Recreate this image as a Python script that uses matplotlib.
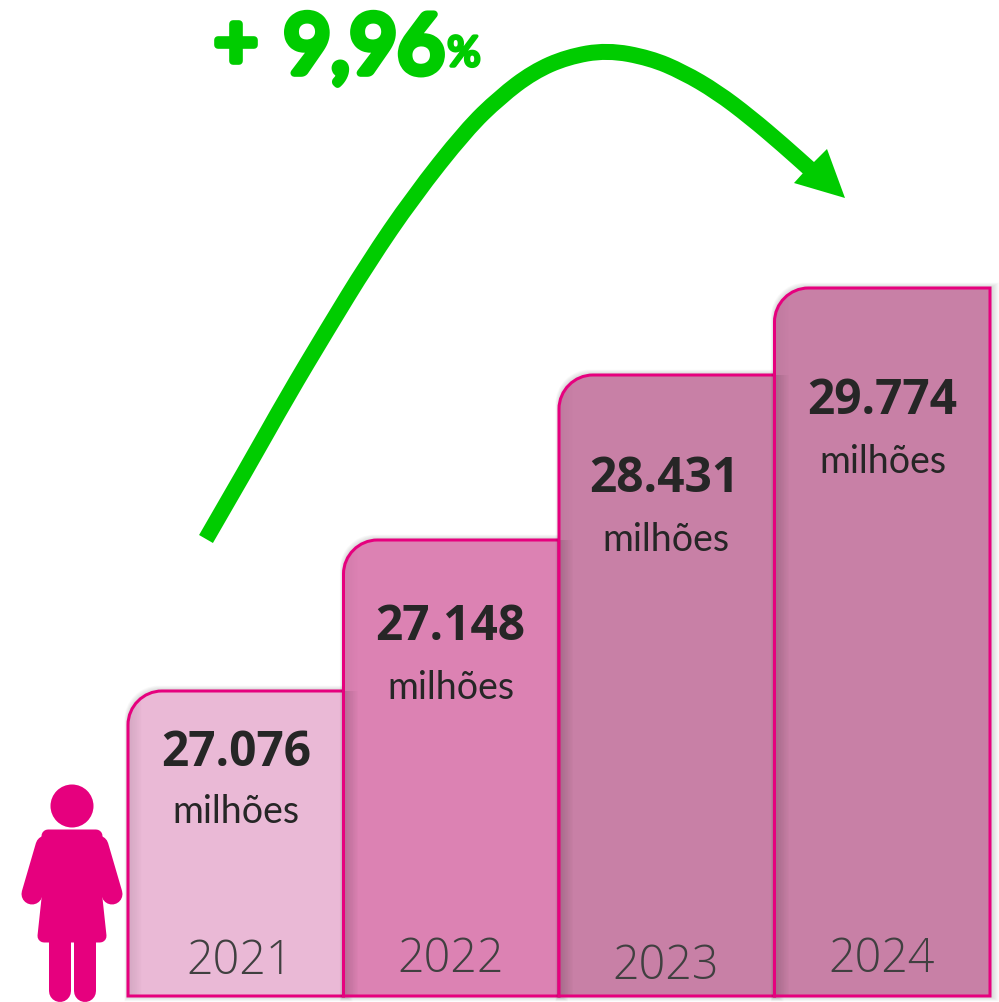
import matplotlib
matplotlib.use('Agg')
import matplotlib.pyplot as plt
import matplotlib.patheffects as pe
from matplotlib.path import Path
from matplotlib.patches import PathPatch, Circle, Polygon, Rectangle

# data
years = ['2021', '2022', '2023', '2024']
value_labels = ['27.076', '27.148', '28.431', '29.774']
unit = 'milhões'
growth_label = '9,96'
bar_heights = [305, 456, 621, 708]  # drawn height read off the picture, not to scale with the values
bar_colors = ['#EAB9D6', '#DC82B3', '#C880A6', '#C880A6']

# arrow centre line
arrow_x = [206, 250, 287, 327, 368, 413, 466, 500, 533, 567, 607, 650, 683, 717, 750, 783, 812]
arrow_y = [539, 463, 397, 330, 263, 197, 130, 97, 72, 57, 50, 58, 72, 92, 117, 145, 171]

PINK = '#E6007E'
GREEN = '#00CC00'
px = 72 / 100  # one pixel in points

fig = plt.figure(figsize=(9.99, 10.02), dpi=100)
ax = fig.add_axes([0, 0, 1, 1])
ax.set_xlim(0, 999)
ax.set_ylim(1002, 0)
ax.axis('off')

base = 996
left0 = 128
width = 215.5
r = 34

# text placement, one per bar
text_x = [236, 450, 664, 882]
value_y = [754, 628, 480, 402]
unit_x = [236, 451, 666, 883]
unit_y = [812, 688, 540, 462]
year_x = [239.5, 451, 666, 882]
year_y = [962, 960, 967, 960]


def bar_path(x0, x1, top, bottom, rad):
    k = 0.55 * rad
    verts = [(x0, bottom), (x0, top + rad),
             (x0, top + rad - k), (x0 + rad - k, top), (x0 + rad, top),
             (x1, top), (x1, bottom), (x0, bottom)]
    codes = [Path.MOVETO, Path.LINETO, Path.CURVE4, Path.CURVE4, Path.CURVE4,
             Path.LINETO, Path.LINETO, Path.CLOSEPOLY]
    return Path(verts, codes)


# bars, left to right so each one sits over the one before
prev_top = None
for i, (h, col) in enumerate(zip(bar_heights, bar_colors)):
    x0 = left0 + i * width
    x1 = x0 + width
    top = base - h
    z = 2 + i
    # soft shadow around the bar
    for s in range(9, 0, -1):
        ax.add_patch(PathPatch(bar_path(x0 - s * 0.4, x1 + s, top - s * 0.6, base + s * 0.6, r),
                               fc='black', ec='none', alpha=0.02, zorder=z))
    body = PathPatch(bar_path(x0, x1, top, base, r), fc=col, ec='none', zorder=z)
    ax.add_patch(body)
    # inner shade along the left edge, stronger where the bar overlaps the previous one
    for s in range(14):
        a = 0.009 * (14 - s) if i else 0.005 * (14 - s)
        shade_top = prev_top if prev_top is not None else top
        sh = Rectangle((x0 + s, shade_top), 1, base - shade_top, fc='black', ec='none',
                       alpha=a, zorder=z)
        ax.add_patch(sh)
        sh.set_clip_path(body)
        sh2 = Rectangle((x0 + s, top), 1, base - top, fc='black', ec='none',
                        alpha=a * 0.35, zorder=z)
        ax.add_patch(sh2)
        sh2.set_clip_path(body)
    ax.add_patch(PathPatch(bar_path(x0, x1, top, base, r), fc='none', ec=PINK,
                           lw=3 * px, joinstyle='miter', zorder=z))
    ax.text(text_x[i], value_y[i], value_labels[i], family='Open Sans', weight='bold', fontsize=34.5,
            color='#262626', ha='center', va='center', zorder=10)
    ax.text(unit_x[i], unit_y[i], unit, family='Lato', weight='regular', fontsize=27,
            color='#262626', ha='center', va='center', zorder=10)
    ax.text(year_x[i], year_y[i], years[i], family='Open Sans', weight='light', fontsize=33.5,
            color='#404040', ha='center', va='center', zorder=10)
    prev_top = top

# woman icon
ax.add_patch(Circle((72, 806), 21.5, fc=PINK, ec='none', zorder=5))
ax.plot([46, 32], [846, 894], color=PINK, lw=21 * px, solid_capstyle='round', zorder=5)
ax.plot([98, 112], [846, 894], color=PINK, lw=21 * px, solid_capstyle='round', zorder=5)
ax.add_patch(Polygon([(48, 836), (96, 836), (94, 880), (100, 936), (44, 936), (50, 880)],
                     closed=True, fc=PINK, ec=PINK, lw=13 * px, joinstyle='round', zorder=5))
ax.plot([60, 60], [930, 991], color=PINK, lw=22 * px, solid_capstyle='round', zorder=5)
ax.plot([84.5, 84.5], [930, 991], color=PINK, lw=22 * px, solid_capstyle='round', zorder=5)

# growth arrow: the picked points are the control points of a smooth quadratic path
verts = [(arrow_x[0], arrow_y[0])]
codes = [Path.MOVETO]
for j in range(1, len(arrow_x) - 1):
    verts.append((arrow_x[j], arrow_y[j]))
    codes.append(Path.CURVE3)
    verts.append(((arrow_x[j] + arrow_x[j + 1]) / 2, (arrow_y[j] + arrow_y[j + 1]) / 2))
    codes.append(Path.CURVE3)
verts.append((arrow_x[-1], arrow_y[-1]))
codes.append(Path.LINETO)
ax.add_patch(PathPatch(Path(verts, codes), fc='none', ec=GREEN, lw=16 * px,
                       capstyle='butt', zorder=6))
ax.add_patch(Polygon([(845, 198), (794, 183), (804, 172), (816, 160), (827, 149)],
                     closed=True, fc=GREEN, ec='none', zorder=6))

# growth label, round stroke over a lighter weight to get the rounded letter ends
stroke = [pe.withStroke(linewidth=5.5, foreground=GREEN, capstyle='round', joinstyle='round')]
thin = [pe.withStroke(linewidth=2.5, foreground=GREEN, capstyle='round', joinstyle='round')]
ax.text(236, 46, '+', family='Lato', weight='regular', fontsize=54, color=GREEN,
        ha='center', va='center', path_effects=stroke, zorder=6)
ax.text(364, 50, growth_label, family='Lato', weight='regular', fontsize=59, color=GREEN,
        ha='center', va='center', path_effects=stroke, zorder=6)
ax.text(464, 54, '%', family='Lato', weight='regular', fontsize=30, color=GREEN,
        ha='center', va='center', path_effects=thin, zorder=6)

fig.savefig('out.png', dpi=100, facecolor='white')
